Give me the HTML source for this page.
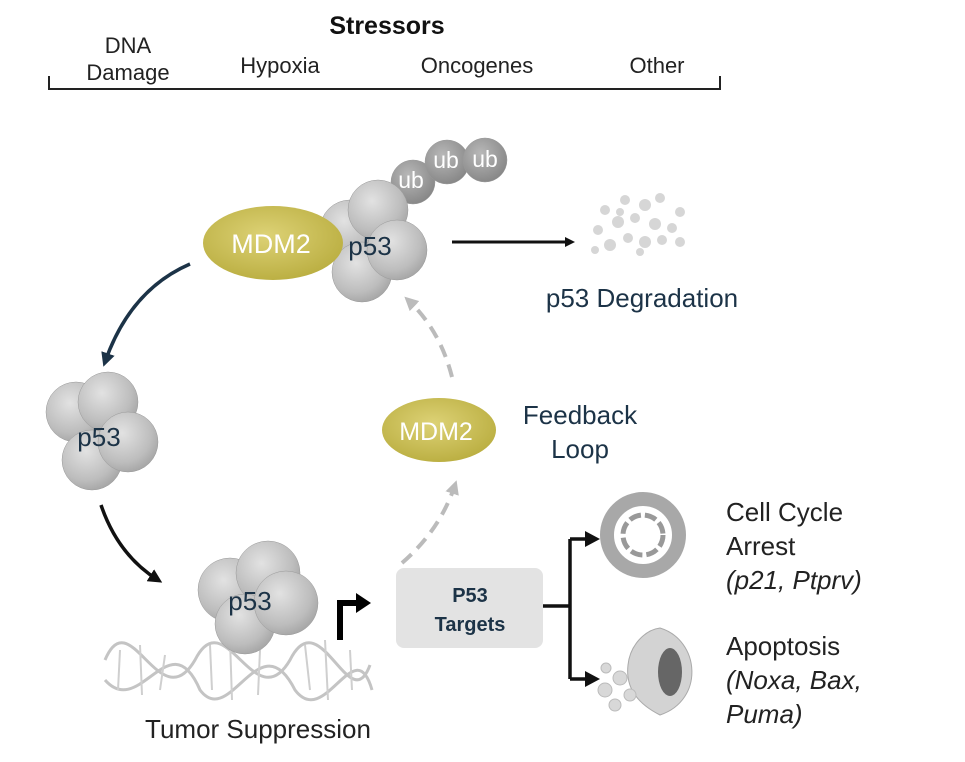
<!DOCTYPE html>
<html><head><meta charset="utf-8"><style>
html,body{margin:0;padding:0;background:#fff;}
svg{display:block;font-family:"Liberation Sans",sans-serif;}
</style></head><body>
<svg width="965" height="762" viewBox="0 0 965 762" xmlns="http://www.w3.org/2000/svg">
<defs>
<radialGradient id="sp" cx="0.4" cy="0.35" r="0.7">
<stop offset="0" stop-color="#e2e2e2"/><stop offset="0.7" stop-color="#bdbdbd"/><stop offset="1" stop-color="#a3a3a3"/></radialGradient>
<radialGradient id="ub" cx="0.4" cy="0.35" r="0.7">
<stop offset="0" stop-color="#b8b8b8"/><stop offset="1" stop-color="#858585"/></radialGradient>
<radialGradient id="md" cx="0.45" cy="0.4" r="0.65">
<stop offset="0" stop-color="#ddd276"/><stop offset="1" stop-color="#b9ad3f"/></radialGradient>
<marker id="ab" markerWidth="10" markerHeight="10" refX="7" refY="5" orient="auto" markerUnits="userSpaceOnUse"><path d="M0,0 L10,5 L0,10 z" fill="#111"/></marker>
<marker id="ad" markerWidth="14" markerHeight="14" refX="9" refY="7" orient="auto" markerUnits="userSpaceOnUse"><path d="M0,0 L14,7 L0,14 z" fill="#1c3347"/></marker>
<marker id="ak" markerWidth="14" markerHeight="14" refX="9" refY="7" orient="auto" markerUnits="userSpaceOnUse"><path d="M0,0 L14,7 L0,14 z" fill="#111"/></marker>
<marker id="ag" markerWidth="14" markerHeight="14" refX="9" refY="7" orient="auto" markerUnits="userSpaceOnUse"><path d="M0,0 L14,7 L0,14 z" fill="#bbb"/></marker>
</defs>

<text x="387" y="34" font-size="25" font-weight="bold" text-anchor="middle" fill="#111">Stressors</text>
<g font-size="22" fill="#222" text-anchor="middle">
<text x="128" y="53">DNA</text><text x="128" y="80">Damage</text>
<text x="280" y="73">Hypoxia</text><text x="477" y="73">Oncogenes</text><text x="657" y="73">Other</text>
</g>
<path d="M49,76 V89 H720 V76" fill="none" stroke="#222" stroke-width="2"/>

<g stroke="#9a9a9a" stroke-width="0.5">
<circle cx="413" cy="182" r="22" fill="url(#ub)"/>
<circle cx="447" cy="162" r="22" fill="url(#ub)"/>
<circle cx="485" cy="160" r="22" fill="url(#ub)"/>
<circle cx="350" cy="230" r="30" fill="url(#sp)"/>
<circle cx="378" cy="210" r="30" fill="url(#sp)"/>
<circle cx="362" cy="272" r="30" fill="url(#sp)"/>
<circle cx="397" cy="250" r="30" fill="url(#sp)"/>
</g>
<g font-size="23" fill="#fff" text-anchor="middle"><text x="411" y="188">ub</text><text x="446" y="168">ub</text><text x="485" y="167">ub</text></g>
<ellipse cx="273" cy="243" rx="70" ry="37" fill="url(#md)"/>
<text x="271" y="253" font-size="27" fill="#fff" text-anchor="middle">MDM2</text>
<text x="370" y="255" font-size="26" fill="#1c3347" text-anchor="middle">p53</text>
<line x1="452" y1="242" x2="572" y2="242" stroke="#111" stroke-width="3" marker-end="url(#ab)"/>
<g fill="#d6d6d6">
<circle cx="605" cy="210" r="5"/><circle cx="625" cy="200" r="5"/><circle cx="645" cy="205" r="6"/><circle cx="660" cy="198" r="5"/><circle cx="680" cy="212" r="5"/>
<circle cx="598" cy="230" r="5"/><circle cx="618" cy="222" r="6"/><circle cx="635" cy="218" r="5"/><circle cx="655" cy="224" r="6"/><circle cx="672" cy="228" r="5"/>
<circle cx="610" cy="245" r="6"/><circle cx="628" cy="238" r="5"/><circle cx="645" cy="242" r="6"/><circle cx="662" cy="240" r="5"/><circle cx="680" cy="242" r="5"/>
<circle cx="595" cy="250" r="4"/><circle cx="640" cy="252" r="4"/><circle cx="620" cy="212" r="4"/>
</g>
<text x="642" y="307" font-size="26" fill="#1c3347" text-anchor="middle">p53 Degradation</text>

<path d="M190,264 Q130,290 105,362" fill="none" stroke="#1c3347" stroke-width="3.5" marker-end="url(#ad)"/>
<g stroke="#9a9a9a" stroke-width="0.5">
<circle cx="76" cy="412" r="30" fill="url(#sp)"/>
<circle cx="108" cy="402" r="30" fill="url(#sp)"/>
<circle cx="92" cy="460" r="30" fill="url(#sp)"/>
<circle cx="128" cy="442" r="30" fill="url(#sp)"/>
</g>
<text x="99" y="446" font-size="26" fill="#1c3347" text-anchor="middle">p53</text>
<path d="M101,505 Q118,555 158,580" fill="none" stroke="#111" stroke-width="3.5" marker-end="url(#ak)"/>

<g fill="none" stroke="#c4c4c4" stroke-width="3">
<path d="M105,660 C130,600 160,720 195,660 C225,600 255,720 290,660 C320,600 350,720 370,665"/>
<path d="M105,680 C140,720 170,620 200,690 C230,730 260,620 295,690 C325,730 355,630 372,690"/>
</g>
<g stroke="#cfcfcf" stroke-width="2">
<line x1="120" y1="650" x2="118" y2="690"/><line x1="140" y1="645" x2="142" y2="695"/><line x1="165" y1="655" x2="160" y2="690"/><line x1="210" y1="645" x2="212" y2="690"/><line x1="230" y1="640" x2="232" y2="700"/><line x1="260" y1="650" x2="258" y2="695"/><line x1="305" y1="645" x2="310" y2="690"/><line x1="325" y1="640" x2="328" y2="700"/><line x1="350" y1="650" x2="352" y2="690"/>
</g>
<g stroke="#9a9a9a" stroke-width="0.5">
<circle cx="230" cy="590" r="32" fill="url(#sp)"/>
<circle cx="268" cy="573" r="32" fill="url(#sp)"/>
<circle cx="245" cy="624" r="30" fill="url(#sp)"/>
<circle cx="286" cy="603" r="32" fill="url(#sp)"/>
</g>
<text x="250" y="610" font-size="26" fill="#1c3347" text-anchor="middle">p53</text>
<path d="M340,640 V603 H358" fill="none" stroke="#000" stroke-width="6"/>
<path d="M356,593 L371,603 L356,613 z" fill="#000"/>
<text x="258" y="738" font-size="26" fill="#222" text-anchor="middle">Tumor Suppression</text>

<rect x="396" y="568" width="147" height="80" rx="8" fill="#e3e3e3"/>
<text x="470" y="602" font-size="20" font-weight="bold" fill="#1c3347" text-anchor="middle">P53</text>
<text x="470" y="631" font-size="20" font-weight="bold" fill="#1c3347" text-anchor="middle">Targets</text>

<path d="M402,563 Q440,530 455,485" fill="none" stroke="#bbb" stroke-width="4" stroke-dasharray="13,8" marker-end="url(#ag)"/>
<path d="M452,377 Q440,330 408,300" fill="none" stroke="#bbb" stroke-width="4" stroke-dasharray="13,8" marker-end="url(#ag)"/>
<ellipse cx="439" cy="430" rx="57" ry="32" fill="url(#md)"/>
<text x="436" y="440" font-size="25" fill="#fff" text-anchor="middle">MDM2</text>
<text x="580" y="424" font-size="26" fill="#1c3347" text-anchor="middle">Feedback</text>
<text x="580" y="458" font-size="26" fill="#1c3347" text-anchor="middle">Loop</text>

<path d="M543,606 H570 M570,539 V679 M570,539 H588 M570,679 H588" fill="none" stroke="#111" stroke-width="3.5"/>
<path d="M585,531 L600,539 L585,547 z M585,671 L600,679 L585,687 z" fill="#111"/>
<circle cx="643" cy="535" r="36" fill="none" stroke="#a8a8a8" stroke-width="14"/>
<circle cx="643" cy="535" r="20" fill="none" stroke="#999" stroke-width="5" stroke-dasharray="12,4"/>
<path d="M660,628 C700,640 705,700 660,715 C640,705 625,690 628,665 C630,645 645,630 660,628 z" fill="#d3d3d3" stroke="#aaa"/>
<ellipse cx="670" cy="672" rx="12" ry="24" fill="#666"/>
<g fill="#d8d8d8" stroke="#bbb"><circle cx="620" cy="678" r="7"/><circle cx="605" cy="690" r="7"/><circle cx="615" cy="705" r="6"/><circle cx="630" cy="695" r="6"/><circle cx="606" cy="668" r="5"/></g>
<g font-size="26" fill="#222">
<text x="726" y="521">Cell Cycle</text><text x="726" y="555">Arrest</text>
<text x="726" y="589" font-style="italic">(p21, Ptprv)</text>
<text x="726" y="655">Apoptosis</text>
<text x="726" y="689" font-style="italic">(Noxa, Bax,</text>
<text x="726" y="723" font-style="italic">Puma)</text>
</g>
</svg>
</body></html>
